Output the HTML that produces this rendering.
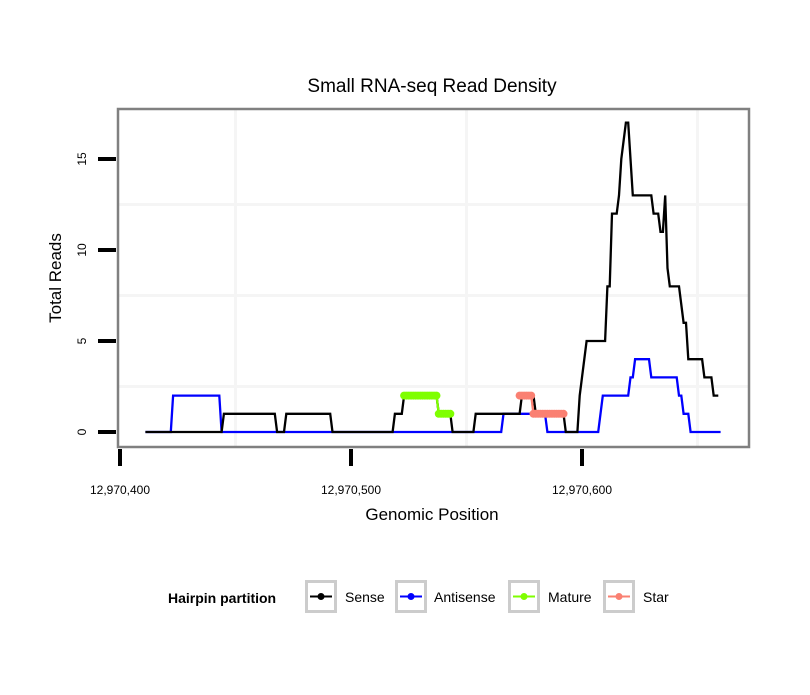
<!DOCTYPE html>
<html><head><meta charset="utf-8"><style>
body{margin:0;background:#fff;}
svg text{font-family:"Liberation Sans",sans-serif;}
</style></head><body>
<svg id="chart" width="810" height="690" xmlns="http://www.w3.org/2000/svg">
<rect width="810" height="690" fill="#fff"/>
<text x="432" y="92" font-size="19" text-anchor="middle">Small RNA-seq Read Density</text>
<g id="grid"></g>
<g id="series"></g>
<rect x="118" y="109" width="631" height="338" fill="none" stroke="#808080" stroke-width="2.5"/>
<g id="axes"></g>
<text x="432" y="520" font-size="17" text-anchor="middle">Genomic Position</text>
<text transform="translate(61,278) rotate(-90)" font-size="17" text-anchor="middle">Total Reads</text>
<g>
<text x="168" y="603" font-size="14" font-weight="bold">Hairpin partition</text>
<g id="legend"></g>
</g>
</svg>
<script>
// positions below are offsets from positionBase (genomic coordinate)
const positionBase=12970000;
const xTicks=[12970400,12970500,12970600];
const xTickLabels=["12,970,400","12,970,500","12,970,600"];
const yTicks=[0,5,10,15];
const xMinor=[12970450,12970550,12970650];
const yMinor=[2.5,7.5,12.5];
const sensePos=[411,444,445,467,468,471,472,491,492,518,519,522,523,537,538,543,544,553,554,573,574,579,580,592,593,598,599,600,601,602,610,611,612,613,615,616,617,618,619,620,621,622,630,631,633,634,635,636,637,638,642,644,645,646,652,653,656,657,659];
const senseVal=[0,0,1,1,0,0,1,1,0,0,1,1,2,2,1,1,0,0,1,1,2,2,1,1,0,0,2,3,4,5,5,8,8,12,12,13,15,16,17,17,15,13,13,12,12,11,11,13,9,8,8,6,6,4,4,3,3,2,2];
const antiPos=[411,422,423,443,444,565,566,584,585,607,609,620,621,622,623,629,630,641,642,643,644,645,646,647,660];
const antiVal=[0,0,2,2,0,0,1,1,0,0,2,2,3,3,4,4,3,3,2,2,1,1,1,0,0];
const maturePos=[523,524,525,526,527,528,529,530,531,532,533,534,535,536,537,538,539,540,541,542,543];
const matureVal=[2,2,2,2,2,2,2,2,2,2,2,2,2,2,2,1,1,1,1,1,1];
const starPos=[573,574,575,576,577,578,579,580,581,582,583,584,585,586,587,588,589,590,591,592];
const starVal=[2,2,2,2,2,2,1,1,1,1,1,1,1,1,1,1,1,1,1,1];
const legendNames=["Sense","Antisense","Mature","Star"];
const legendColors=["#000000","#0000ff","#7fff00","#fa8072"];

const NS="http://www.w3.org/2000/svg";
const X=v=>120+(v-12970400)*2.31;
const XP=p=>X(positionBase+p);
const Y=v=>432-v*18.2;
function mk(t,a,p){const e=document.createElementNS(NS,t);for(const k in a)e.setAttribute(k,a[k]);p.appendChild(e);return e;}
const grid=document.getElementById('grid'),axes=document.getElementById('axes'),ser=document.getElementById('series'),leg=document.getElementById('legend');
xMinor.forEach(v=>{const l=mk('line',{x1:X(v),x2:X(v),y1:110,y2:446,stroke:'#f5f5f5','stroke-width':3},grid);

});
yMinor.forEach(v=>{const l=mk('line',{x1:119,x2:748,y1:Y(v),y2:Y(v),stroke:'#f5f5f5','stroke-width':3},grid);

});
xTicks.forEach((v,i)=>{const l=mk('line',{x1:X(v),x2:X(v),y1:449,y2:466,stroke:'#000','stroke-width':4},axes);


const t=mk('text',{x:X(v),y:494,'font-size':12,'text-anchor':'middle'},axes);t.textContent=xTickLabels[i];

});
yTicks.forEach(v=>{const l=mk('line',{x1:98,x2:116,y1:Y(v),y2:Y(v),stroke:'#000','stroke-width':4},axes);


const t=mk('text',{transform:`translate(86,${Y(v)}) rotate(-90)`,'font-size':12,'text-anchor':'middle'},axes);t.textContent=v;

});
function line(P,V,c,name,pts){const d=P.map((p,i)=>`${i?'L':'M'}${XP(p).toFixed(1)},${Y(V[i]).toFixed(1)}`).join('');
const g=mk('g',{},ser);


mk('path',{d:d,fill:'none',stroke:c,'stroke-width':2.3},g);
if(pts)P.forEach((p,i)=>{const c2=mk('circle',{cx:XP(p),cy:Y(V[i]),r:4,fill:c},g);

});}
line(antiPos,antiVal,'#0000ff','antisense-series',false);
line(sensePos,senseVal,'#000000','sense-series',false);
line(maturePos,matureVal,'#7fff00','mature-series',true);
line(starPos,starVal,'#fa8072','star-series',true);
const bx=[305,395,508,603],tx=[345,434,548,643];
legendNames.forEach((n,i)=>{const g=mk('g',{},leg);


mk('rect',{x:bx[i]+1.5,y:581.5,width:29,height:30,fill:'#fff',stroke:'#cccccc','stroke-width':3},g);
mk('line',{x1:bx[i]+5,x2:bx[i]+27,y1:596.5,y2:596.5,stroke:legendColors[i],'stroke-width':2},g);
mk('circle',{cx:bx[i]+16,cy:596.5,r:3.5,fill:legendColors[i]},g);
const t=mk('text',{x:tx[i],y:602,'font-size':14},g);t.textContent=n;});
</script>
</body></html>
